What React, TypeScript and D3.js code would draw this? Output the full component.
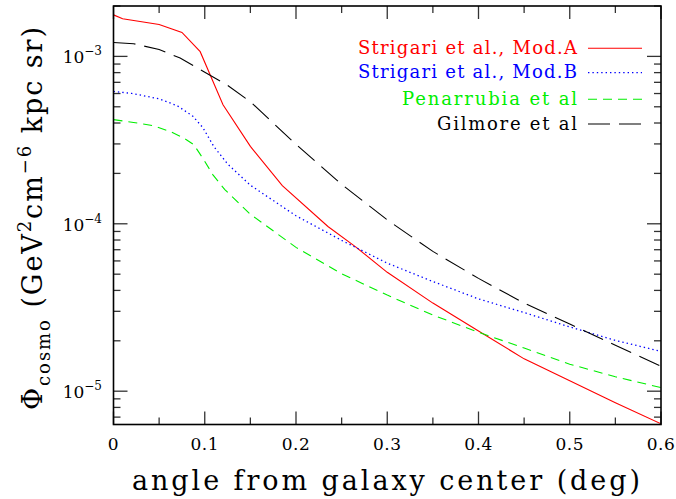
import React from "react";
import * as d3 from "d3";

// ---- data ----
const modAAngle = [0, 0.01, 0.05, 0.075, 0.095, 0.12, 0.15, 0.185, 0.235, 0.265, 0.3, 0.35, 0.4, 0.45, 0.5, 0.55, 0.6];
const modAFlux = [1.77e-3, 1.68e-3, 1.55e-3, 1.39e-3, 1.067e-3, 5.14e-4, 2.9e-4, 1.69e-4, 9.64e-5, 7.31e-5, 5.13e-5, 3.36e-5, 2.29e-5, 1.56e-5, 1.156e-5, 8.53e-6, 6.38e-6];

const modBAngle = [0, 0.02, 0.05, 0.07, 0.087, 0.098, 0.11, 0.125, 0.15, 0.2, 0.25, 0.3, 0.35, 0.4, 0.45, 0.5, 0.55, 0.6];
const modBFlux = [6.18e-4, 6.01e-4, 5.58e-4, 5.07e-4, 4.39e-4, 3.75e-4, 2.89e-4, 2.28e-4, 1.7e-4, 1.116e-4, 7.96e-5, 5.82e-5, 4.52e-5, 3.56e-5, 2.95e-5, 2.42e-5, 2.01e-5, 1.73e-5];

const penAngle = [0, 0.022, 0.044, 0.062, 0.077, 0.088, 0.099, 0.109, 0.122, 0.15, 0.2, 0.25, 0.3, 0.35, 0.4, 0.45, 0.5, 0.55, 0.6];
const penFlux = [4.19e-4, 4.03e-4, 3.85e-4, 3.56e-4, 3.25e-4, 2.97e-4, 2.41e-4, 1.96e-4, 1.6e-4, 1.14e-4, 7.23e-5, 5.03e-5, 3.75e-5, 2.85e-5, 2.25e-5, 1.81e-5, 1.45e-5, 1.22e-5, 1.05e-5];

const gilAngle = [0, 0.022, 0.05, 0.073, 0.095, 0.124, 0.15, 0.2, 0.25, 0.3, 0.35, 0.4, 0.45, 0.5, 0.55, 0.6];
const gilFlux = [1.21e-3, 1.19e-3, 1.1e-3, 9.78e-4, 8.33e-4, 6.78e-4, 5.36e-4, 2.98e-4, 1.72e-4, 1.055e-4, 6.84e-5, 4.72e-5, 3.36e-5, 2.52e-5, 1.88e-5, 1.41e-5];

const seriesNames = ["Strigari et al., Mod.A", "Strigari et al., Mod.B", "Penarrubia et al", "Gilmore et al"];
const xTickValues = [0, 0.1, 0.2, 0.3, 0.4, 0.5, 0.6];
const xTickLabels = ["0", "0.1", "0.2", "0.3", "0.4", "0.5", "0.6"];
const yMajorExps = [-3, -4, -5];
const xLabel = "angle from galaxy center (deg)";

// ---- layout ----
const W = 676, H = 499;
const L = 113.5, R = 661, T = 6, B = 424.5;
const FONT = "'DejaVu Serif', serif";

const x = d3.scaleLinear().domain([0, 0.6]).range([L, R]);
const y = d3.scaleLog().domain([2e-3 / Math.pow(10, 2.5), 2e-3]).range([B, T]);

const styles = [
  { color: "#ff0000", dash: "none", width: 1.1 },
  { color: "#0000ff", dash: "1.4,3", width: 1.3 },
  { color: "#00ee00", dash: "9,6", width: 1.1 },
  { color: "#000000", dash: "22,9", width: 1.1 },
];

const seriesData = [
  modAAngle.map((a, i) => [a, modAFlux[i]] as [number, number]),
  modBAngle.map((a, i) => [a, modBFlux[i]] as [number, number]),
  penAngle.map((a, i) => [a, penFlux[i]] as [number, number]),
  gilAngle.map((a, i) => [a, gilFlux[i]] as [number, number]),
];

const legendWidths = [219, 219, 175, 140];
const tf = { fontFamily: FONT };

export default function App() {
  const line = d3
    .line<[number, number]>()
    .x((d) => x(d[0]))
    .y((d) => y(d[1]));

  const xMinor = d3.range(0, 0.6001, 0.05);
  const [yLo, yHi] = y.domain();
  const yMinor: number[] = [];
  for (let e = -6; e <= -2; e++) {
    for (let m = 1; m <= 9; m++) {
      const v = m * Math.pow(10, e);
      if (v >= yLo * 0.999 && v <= yHi * 1.001) yMinor.push(v);
    }
  }
  const tickColor = "#333";

  return (
    <svg width={W} height={H} style={{ position: "absolute", left: 0, top: 0, background: "#fff" }}>
      <rect x={0} y={0} width={W} height={H} fill="#fff" />
      <defs>
        <clipPath id="plotclip">
          <rect x={L} y={T} width={R - L} height={B - T} />
        </clipPath>
      </defs>

      {/* series */}
      <g clipPath="url(#plotclip)">
        {seriesData.map((d, i) => (
          <path
            key={i}
            d={line(d) || ""}
            fill="none"
            stroke={styles[i].color}
            strokeWidth={styles[i].width}
            strokeDasharray={styles[i].dash}
          />
        ))}
      </g>

      {/* x ticks (bottom & top) */}
      {xMinor.map((v, i) => {
        const major = Math.abs(Math.round(v * 10) - v * 10) < 1e-6;
        const len = major ? 13 : 7;
        return (
          <g key={"xt" + i} stroke={tickColor} strokeWidth={1.3}>
            <line x1={x(v)} x2={x(v)} y1={B} y2={B - len} />
            <line x1={x(v)} x2={x(v)} y1={T} y2={T + len} />
          </g>
        );
      })}
      {/* y ticks (left & right) */}
      {yMinor.map((v, i) => {
        const major = Math.abs(Math.log10(v) - Math.round(Math.log10(v))) < 1e-6;
        const len = major ? 14 : 7;
        return (
          <g key={"yt" + i} stroke={tickColor} strokeWidth={1.3}>
            <line x1={L} x2={L + len} y1={y(v)} y2={y(v)} />
            <line x1={R} x2={R - len} y1={y(v)} y2={y(v)} />
          </g>
        );
      })}

      {/* frame */}
      <rect x={L} y={T} width={R - L} height={B - T} fill="none" stroke="#000" strokeWidth={1.6} />

      {/* x tick labels */}
      {xTickValues.map((v, i) => (
        <text
          key={"xl" + i}
          x={x(v)}
          y={450}
          textAnchor="middle"
          style={tf}
          fontSize={17}
          letterSpacing={0.5}
          fill="#000"
        >
          {xTickLabels[i]}
        </text>
      ))}

      {/* y tick labels */}
      {yMajorExps.map((e) => (
        <text key={"yl" + e} x={102} y={y(Math.pow(10, e)) + 7} textAnchor="end" style={tf} fill="#000">
          <tspan fontSize={17}>10</tspan>
          <tspan fontSize={12} dy={-8}>{"\u2212" + Math.abs(e)}</tspan>
        </text>
      ))}

      {/* x axis label */}
      <text
        x={386}
        y={490}
        textAnchor="middle"
        style={tf}
        fontSize={27}
        textLength={508}
        lengthAdjust="spacing"
        fill="#000"
      >
        {xLabel}
      </text>

      {/* y axis label */}
      <text
        transform={`translate(42, 218.5) rotate(-90)`}
        textAnchor="middle"
        style={tf}
        fontSize={27}
        textLength={383}
        lengthAdjust="spacing"
        fill="#000"
      >
        <tspan>Φ</tspan>
        <tspan fontSize={18} dy={8}>cosmo</tspan>
        <tspan dy={-8}> (GeV</tspan>
        <tspan fontSize={18} dy={-11}>2</tspan>
        <tspan dy={11}>cm</tspan>
        <tspan fontSize={18} dy={-11}>{"\u22126"}</tspan>
        <tspan dy={11}> kpc sr)</tspan>
      </text>

      {/* legend */}
      {seriesNames.map((name, i) => {
        const ly = [48.3, 72.7, 99.3, 124][i];
        return (
          <g key={"lg" + i}>
            <text
              x={577}
              y={ly + 5.5}
              textAnchor="end"
              style={tf}
              fontSize={18}
              textLength={legendWidths[i]}
              lengthAdjust="spacing"
              fill={styles[i].color}
            >
              {name}
            </text>
            <line
              x1={588}
              x2={642}
              y1={ly}
              y2={ly}
              stroke={styles[i].color}
              strokeWidth={styles[i].width}
              strokeDasharray={styles[i].dash}
            />
          </g>
        );
      })}
    </svg>
  );
}
